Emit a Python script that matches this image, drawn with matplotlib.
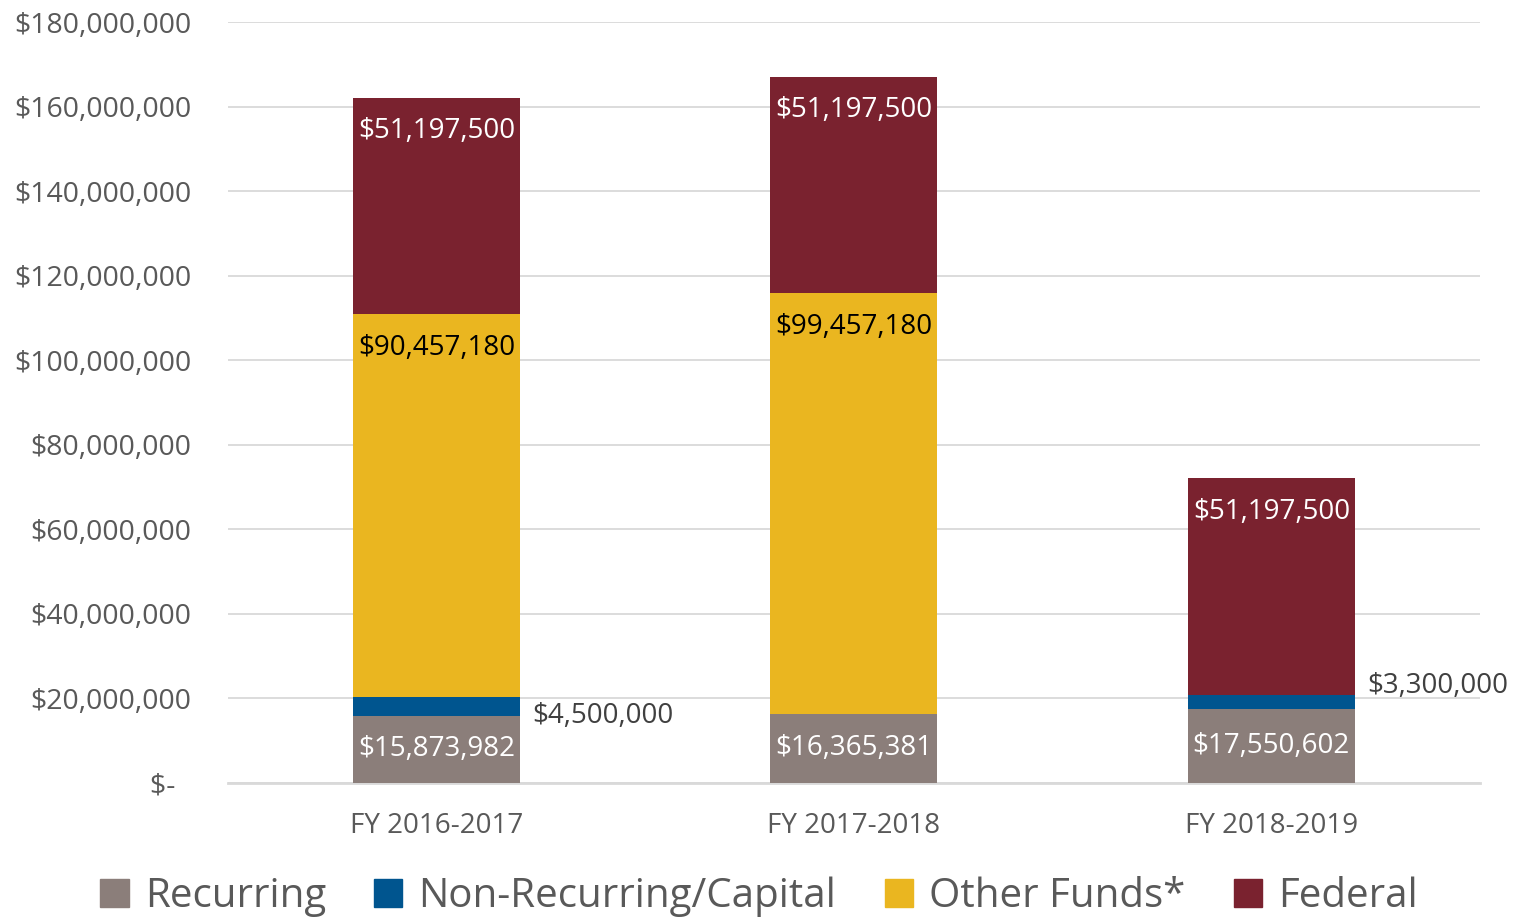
import matplotlib.pyplot as plt
import numpy as np
from matplotlib.ticker import FuncFormatter, MultipleLocator
from matplotlib.patches import Patch

plt.rcParams['font.family'] = ['Open Sans', 'DejaVu Sans']

years = ['FY 2016-2017', 'FY 2017-2018', 'FY 2018-2019']
recurring = [15873982, 16365381, 17550602]
non_recurring = [4500000, 0, 3300000]
other_funds = [90457180, 99457180, 0]
federal = [51197500, 51197500, 51197500]

c_rec = '#8B7E7A'
c_non = '#00558F'
c_oth = '#EAB620'
c_fed = '#7A222F'
txt = '#595959'

fig = plt.figure(figsize=(15.18, 9.21), dpi=100)
ax = fig.add_axes([0.150, 0.150, 0.825, 0.826])

x = np.arange(len(years))
w = 0.4
rec = np.array(recurring)
non = np.array(non_recurring)
oth = np.array(other_funds)
fed = np.array(federal)

ax.bar(x, rec, w, color=c_rec, zorder=3)
ax.bar(x, non, w, bottom=rec, color=c_non, zorder=3)
ax.bar(x, oth, w, bottom=rec + non, color=c_oth, zorder=3)
ax.bar(x, fed, w, bottom=rec + non + oth, color=c_fed, zorder=3)

fmt = lambda v: '${:,.0f}'.format(v)
lfs = 20

for i in range(len(years)):
    # recurring, centered
    ax.text(x[i], rec[i] / 2, fmt(rec[i]), ha='center', va='center',
            color='white', fontsize=lfs, zorder=4)
    # non-recurring, outside right
    if non[i] > 0:
        dy = -7 if i == 0 else 11
        ax.annotate(fmt(non[i]), xy=(x[i] + w / 2, rec[i] + non[i] / 2),
                    xytext=(9, dy), textcoords='offset points',
                    ha='left', va='center', color='#404040', fontsize=lfs)
    # other funds, inside end
    if oth[i] > 0:
        ax.annotate(fmt(oth[i]), xy=(x[i], rec[i] + non[i] + oth[i]),
                    xytext=(0, -24), textcoords='offset points',
                    ha='center', va='center', color='black', fontsize=lfs)
    # federal, inside end
    top = rec[i] + non[i] + oth[i] + fed[i]
    ax.annotate(fmt(fed[i]), xy=(x[i], top), xytext=(0, -24),
                textcoords='offset points', ha='center', va='center',
                color='white', fontsize=lfs)

ax.set_xlim(-0.5, 2.5)
ax.set_ylim(0, 180000000)
ax.yaxis.set_major_locator(MultipleLocator(20000000))
ax.yaxis.set_major_formatter(FuncFormatter(
    lambda v, p: '$-' + '\u2007' if v == 0 else '${:,.0f}'.format(v)))
ax.grid(axis='y', color='#D9D9D9', linewidth=1.3, zorder=0)
for s in ['top', 'right', 'left']:
    ax.spines[s].set_visible(False)
ax.spines['bottom'].set_color('#D9D9D9')
ax.spines['bottom'].set_linewidth(2)
ax.tick_params(axis='y', length=0, pad=26, labelsize=20.5, labelcolor=txt)
ax.tick_params(axis='x', length=0, pad=21, labelsize=20, labelcolor=txt)
ax.set_xticks(x)
ax.set_xticklabels(years)

handles = [Patch(color=c_rec, label='Recurring'),
           Patch(color=c_non, label='Non-Recurring/Capital'),
           Patch(color=c_oth, label='Other Funds*'),
           Patch(color=c_fed, label='Federal')]
leg = fig.legend(handles=handles, loc='lower center', bbox_to_anchor=(0.5, -0.035),
                 ncol=4, frameon=False, fontsize=29, handlelength=0.7,
                 handleheight=0.7, handletextpad=0.4, columnspacing=1.2)
for t in leg.get_texts():
    t.set_color(txt)

fig.savefig('out.png', dpi=100)
